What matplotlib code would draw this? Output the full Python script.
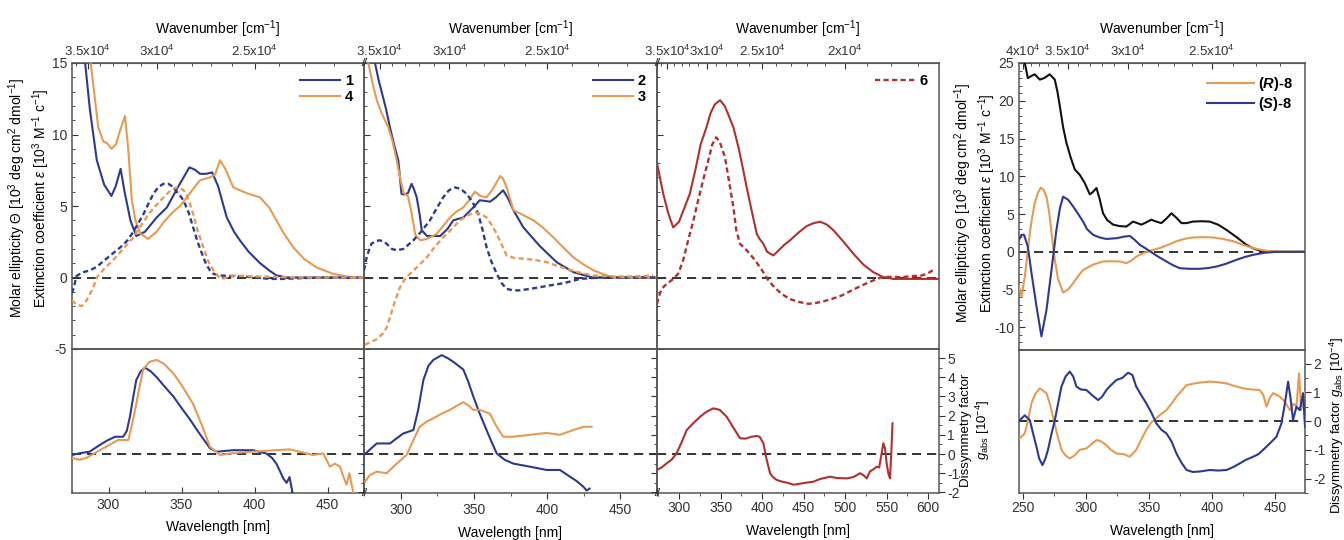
import numpy as np
import matplotlib
matplotlib.use("Agg")
import matplotlib.pyplot as plt
from matplotlib.ticker import MultipleLocator, FixedLocator
from matplotlib.lines import Line2D

plt.rcParams['font.family'] = ['Liberation Sans', 'DejaVu Sans']
plt.rcParams['axes.unicode_minus'] = False
plt.rcParams['mathtext.fontset'] = 'custom'
plt.rcParams['mathtext.rm'] = 'Liberation Sans'
plt.rcParams['mathtext.it'] = 'Liberation Sans:italic'
plt.rcParams['mathtext.bf'] = 'Liberation Sans:bold'
plt.rcParams['mathtext.bfit'] = 'Liberation Sans:italic:bold'

BLUE = '#2c3a92'
ORANGE = '#e89a52'
RED = '#b2302e'
BLACK = '#111111'
SPINE = '#555555'

# ---- compounds 1 / 4 ----
abs_1_wl = [276, 280, 284, 287.3, 292, 297, 302, 305, 308.3, 311, 315, 319, 325, 333, 340, 348, 355.4, 359, 362.7, 367, 371, 375, 381, 386, 390, 396, 403.8, 410, 415, 422, 440, 460, 475]
abs_1 = [22, 18.5, 15, 11.7, 8.2, 6.5, 5.7, 6.4, 7.6, 6.0, 4.0, 2.9, 3.2, 4.2, 4.9, 6.4, 7.7, 7.55, 7.25, 7.25, 7.35, 6.4, 4.2, 3.2, 2.6, 1.8, 1.0, 0.5, 0.15, 0.0, 0.0, 0.0, 0.0]
abs_4_wl = [278, 283, 287.8, 293, 296.5, 299, 302, 305, 308, 311.3, 313.5, 316, 318.5, 321.6, 327, 333, 338, 344.4, 349, 353.6, 358, 362.7, 369.5, 373, 376.4, 380, 385.5, 394.6, 403.8, 410, 415, 420, 426.6, 434, 442.6, 454, 465, 475]
abs_4 = [30, 20, 15, 10.5, 9.5, 9.4, 9.0, 9.3, 10.3, 11.3, 9.0, 5.4, 4.0, 3.1, 2.7, 3.2, 3.9, 4.6, 5.0, 5.6, 6.2, 6.8, 7.0, 7.2, 8.2, 7.6, 6.3, 5.9, 5.6, 4.9, 4.0, 3.1, 2.1, 1.3, 0.7, 0.25, 0.05, 0.0]
cd_1_wl = [275, 276.5, 278, 282, 287.3, 292, 296, 302, 308, 313, 317, 321, 324, 328, 330.7, 334, 337.5, 341, 344, 346.7, 350, 352.4, 355, 358, 361, 365, 367, 369.5, 372, 376, 385, 395, 405, 412, 420, 430, 450, 475]
cd_1 = [-1.1, -0.6, 0.1, 0.35, 0.5, 0.75, 1.1, 1.6, 2.1, 2.6, 3.2, 3.9, 4.45, 5.3, 5.85, 6.3, 6.55, 6.55, 6.35, 6.0, 5.6, 5.15, 4.5, 3.5, 2.5, 1.4, 0.9, 0.5, 0.25, 0.14, 0.1, 0.05, -0.05, -0.1, -0.1, -0.05, 0, 0]
cd_4_wl = [275, 278, 281.6, 285, 289.6, 292, 297, 303, 310, 317, 322, 328, 334, 340, 344, 346.7, 349.5, 352.4, 355, 358, 361, 365, 368, 371.8, 375, 377.5, 381, 385, 395, 410, 430, 450, 475]
cd_4 = [-1.6, -1.9, -2.0, -1.6, -0.7, 0.0, 0.6, 1.2, 2.0, 2.8, 3.6, 4.5, 5.2, 5.85, 6.2, 6.3, 6.25, 6.0, 5.4, 4.45, 3.3, 2.1, 1.2, 0.5, 0.1, -0.1, 0.0, 0.14, 0.1, 0.05, 0.0, 0.0, 0.0]
g_1_wl = [275, 281, 287, 294, 299, 304.5, 310, 312.5, 314.7, 317, 319, 322, 325, 329, 333, 338, 344.4, 350, 355.8, 362, 369.5, 374, 385.5, 399, 408, 412, 415, 417.5, 419.7, 422, 424, 426]
g_1 = [-0.05, 0.05, 0.12, 0.47, 0.7, 0.9, 0.9, 1.2, 1.95, 3.0, 3.85, 4.3, 4.5, 4.3, 4.0, 3.55, 3.0, 2.4, 1.8, 1.1, 0.3, 0.12, 0.2, 0.2, 0.03, -0.2, -0.5, -0.9, -1.27, -1.5, -1.2, -2.0]
g_4_wl = [275, 280, 285, 294, 300, 306.5, 313.6, 316, 319, 321.5, 323.8, 328, 333, 338, 344.4, 350, 358, 364, 369.5, 376.4, 385.5, 395, 408, 424, 432, 440, 447, 451.7, 455, 458.6, 461, 463, 465, 467.6]
g_4 = [-0.2, -0.3, -0.2, 0.2, 0.45, 0.73, 0.73, 1.5, 2.6, 3.6, 4.4, 4.8, 4.9, 4.7, 4.2, 3.6, 2.6, 1.5, 0.38, -0.05, 0.05, 0.1, 0.17, 0.24, 0.1, -0.05, 0.03, -0.66, -0.5, -0.66, -1.2, -1.6, -1.0, -2.0]

# ---- compounds 2 / 3 ----
abs_2_wl = [280, 282.5, 285, 288, 290, 292.7, 295.5, 298.4, 300.6, 302, 305, 307.5, 309, 311, 313, 314.4, 318, 321, 327, 332, 336, 342.8, 349.6, 354, 358, 361, 365, 370, 373.5, 377, 383.8, 395, 406.5, 418, 431, 450, 475]
abs_2 = [20, 15, 13.8, 12.6, 11.8, 10.5, 9.3, 8.2, 5.85, 5.8, 5.9, 6.55, 6.2, 5.6, 4.4, 3.3, 2.9, 2.9, 2.9, 3.4, 4.0, 4.2, 4.9, 5.4, 5.35, 5.3, 5.6, 6.1, 5.5, 4.7, 3.5, 2.2, 1.07, 0.37, 0.0, 0.0, 0.0]
abs_3_wl = [276, 278, 281, 283.7, 287, 291.6, 294.5, 297.3, 300, 302, 305, 307.5, 310, 313.5, 318, 324.6, 329, 333.7, 338, 342.8, 346, 350.7, 354.5, 358.7, 363, 368, 370, 372.4, 377, 383, 390.6, 397, 404.3, 411, 418, 425, 431.6, 438, 445, 460, 475]
abs_3 = [20, 15, 13.5, 12.4, 11.5, 10.5, 9.5, 8.2, 6.8, 5.9, 5.7, 4.5, 3.0, 2.6, 2.7, 3.05, 3.6, 4.2, 4.6, 4.9, 5.3, 6.0, 5.7, 5.6, 6.2, 7.1, 6.9, 6.3, 4.7, 4.4, 4.0, 3.5, 2.8, 2.1, 1.4, 0.9, 0.5, 0.25, 0.0, 0.0, 0.0]
cd_2_wl = [275, 277, 280, 283, 286, 290, 294, 297.3, 302, 308.7, 314, 320, 325, 329, 333, 337, 341, 345, 349, 353, 356, 358.7, 362, 365.6, 369, 372.4, 377, 381.5, 388, 395, 402, 408.7, 415, 422.4, 436, 455, 475]
cd_2 = [0.5, 1.5, 2.35, 2.55, 2.6, 2.4, 2.0, 1.9, 2.0, 2.6, 3.2, 4.0, 4.9, 5.6, 6.1, 6.3, 6.2, 5.85, 5.3, 4.45, 3.3, 2.1, 1.1, 0.26, -0.4, -0.8, -0.9, -0.9, -0.8, -0.68, -0.55, -0.44, -0.3, -0.1, 0.0, 0.0, 0.0]
cd_3_wl = [275.5, 280, 284, 288, 290.5, 292.7, 296, 299.6, 303, 306.4, 312, 317.8, 323, 329, 335, 340.5, 346, 350.7, 354.5, 358.7, 362, 365.6, 369, 372.4, 378, 386, 393, 399.7, 406, 413.4, 422, 431.6, 445, 454, 465, 472.5]
cd_3 = [-4.7, -4.5, -4.3, -3.9, -3.5, -2.8, -1.7, -0.68, -0.1, 0.26, 0.8, 1.4, 2.1, 2.8, 3.4, 4.0, 4.35, 4.55, 4.45, 4.2, 3.7, 3.05, 2.3, 1.54, 1.35, 1.3, 1.2, 1.07, 0.85, 0.6, 0.35, 0.14, 0.08, 0.07, 0.1, 0.15]
g_2_wl = [275.7, 280, 283.7, 292.7, 297, 301.8, 308.7, 312, 315.5, 319, 322.3, 328, 332, 336, 342.8, 346, 349.6, 354, 360, 365.6, 371, 377, 388.3, 399.7, 408.7, 415.6, 420, 424.7, 427, 429]
g_2 = [0, 0.3, 0.55, 0.55, 0.8, 1.07, 1.25, 2.3, 3.85, 4.6, 4.9, 5.15, 5.0, 4.8, 4.4, 3.8, 3.0, 2.1, 1.0, 0.03, -0.3, -0.5, -0.66, -0.83, -0.83, -1.18, -1.4, -1.7, -1.9, -1.8]
g_3_wl = [275.7, 279, 283.7, 290.5, 297.3, 304, 308, 313, 318, 322.3, 328, 333.7, 338, 342.8, 346, 349.6, 354, 361, 365, 370, 377, 388.3, 399.7, 408.7, 417.9, 424.7, 430.4]
g_3 = [-1.44, -1.1, -0.92, -1.0, -0.5, -0.05, 0.6, 1.42, 1.7, 1.86, 2.1, 2.3, 2.5, 2.7, 2.55, 2.3, 2.3, 2.1, 1.5, 0.9, 0.9, 1.0, 1.1, 1.0, 1.25, 1.42, 1.42]

# ---- compound 6 ----
abs_6_wl = [273.5, 277, 281, 287, 293, 300, 306, 313, 320, 326, 333, 338, 343, 349.4, 355, 360, 365.5, 372, 377, 381.5, 387, 393.6, 397, 401.6, 406, 413.6, 420, 427, 433.7, 443, 453.8, 462, 470, 478, 486, 498, 510, 522, 534, 545, 558, 575, 590, 606, 613]
abs_6 = [8.0, 7.0, 5.85, 4.5, 3.5, 3.9, 4.8, 5.85, 7.6, 9.3, 10.5, 11.5, 12.1, 12.4, 12.0, 11.3, 10.5, 9.0, 7.6, 6.3, 4.8, 3.05, 2.7, 2.35, 1.8, 1.54, 1.9, 2.3, 2.6, 3.1, 3.6, 3.8, 3.9, 3.7, 3.3, 2.5, 1.66, 0.9, 0.37, 0.05, -0.1, -0.1, -0.1, -0.1, -0.1]
cd_6_wl = [273.5, 276, 279, 285, 291, 299, 305, 311, 317, 323, 329, 335.3, 340, 344.6, 349, 355.4, 360, 365.5, 369, 373.5, 380, 386, 391.6, 400, 407.6, 415, 423.7, 433, 443.7, 455.7, 463, 471.8, 484, 495.8, 508, 519.9, 532, 544, 556, 568, 580, 592, 600, 608]
cd_6 = [-1.84, -1.3, -0.8, -0.45, -0.2, 0.26, 1.2, 2.6, 3.9, 5.4, 6.8, 8.2, 9.3, 9.8, 9.5, 8.4, 6.8, 4.9, 3.3, 2.35, 2.0, 1.6, 1.2, 0.5, -0.2, -0.7, -1.15, -1.5, -1.7, -1.84, -1.8, -1.7, -1.5, -1.26, -0.9, -0.56, -0.25, 0.02, 0.05, 0.02, 0.1, 0.14, 0.3, 0.6]
g_6_wl = [273.5, 279, 285, 291, 297, 303, 309.3, 317, 325.3, 333, 341.4, 349, 357.4, 365, 373.5, 380, 387, 393.6, 397, 401.6, 405, 409.6, 413, 417.6, 425, 431, 437.7, 445, 452, 461.8, 470, 481.9, 490, 502, 510, 518, 522, 526, 530, 534, 538, 541, 543, 546, 548, 550, 552, 554, 555.5, 557]
g_6 = [-0.83, -0.7, -0.49, -0.3, 0.03, 0.6, 1.25, 1.6, 1.94, 2.2, 2.38, 2.3, 1.94, 1.4, 0.82, 0.8, 0.9, 0.94, 0.9, 0.56, -0.2, -1.0, -1.2, -1.35, -1.45, -1.5, -1.6, -1.55, -1.5, -1.44, -1.3, -1.18, -1.25, -1.27, -1.2, -1.0, -1.1, -1.27, -0.9, -0.8, -0.66, -0.7, -0.2, 0.56, 0.3, -0.5, -1.0, -1.27, 0.0, 1.6]

# ---- compound 8 ----
abs_8_wl = [247, 249, 251.6, 254, 257, 259.5, 263.5, 267, 271.4, 275.4, 277.5, 279.4, 282, 284.7, 288, 291.3, 295.2, 299.2, 303.2, 305.5, 308.5, 311, 313.7, 317, 321.7, 327, 332.3, 337.5, 341, 344.2, 348, 352, 356, 360, 364, 368, 372, 376, 380, 385, 392, 398.4, 405, 411.7, 420, 427.5, 433, 438, 445, 451.3, 474]
abs_8 = [27, 26, 25, 23, 23.3, 23.5, 22.8, 23.0, 23.5, 22.8, 21.2, 19.3, 16.5, 14.4, 12.5, 10.9, 10.2, 9.1, 7.6, 7.9, 8.45, 7.0, 5.1, 4.2, 3.6, 3.4, 3.35, 4.0, 3.8, 3.6, 3.9, 4.25, 4.0, 3.8, 4.4, 5.1, 4.5, 3.8, 3.8, 4.0, 4.05, 4.0, 3.6, 2.9, 1.9, 0.93, 0.45, 0.17, 0.05, 0.0, 0.0]
cd_R8_wl = [247, 249, 251.6, 253.5, 255.6, 257.5, 259.5, 262, 264.3, 266.5, 268.8, 271, 272.8, 275.4, 278, 282, 286, 290, 294, 297.9, 305.8, 313.7, 320, 327, 332.3, 336, 340.2, 348.2, 358.7, 365, 372, 378, 385, 393, 401, 409, 417, 425, 432.8, 441, 451, 474]
cd_R8 = [-4.6, -5.9, -3.3, -0.5, 2.5, 4.6, 6.45, 7.8, 8.5, 8.2, 7.3, 5.2, 2.5, -1.06, -3.6, -5.4, -5.0, -4.15, -3.2, -2.4, -1.7, -1.28, -1.25, -1.28, -1.5, -1.2, -0.62, 0.0, 0.5, 0.9, 1.4, 1.7, 1.9, 1.95, 1.9, 1.7, 1.4, 0.9, 0.5, 0.2, 0.0, 0.0]
cd_S8_wl = [247, 249, 251, 254, 256.9, 260.9, 264.8, 268.8, 272.8, 276.7, 279.5, 282, 286, 290, 294, 297.9, 301, 305.8, 311, 316.4, 320, 324.4, 330, 334.9, 338, 342.9, 348, 353.4, 358, 364, 369, 374.6, 382, 390.5, 397, 403.7, 411, 419.6, 426, 432.8, 441, 451, 474]
cd_S8 = [1.6, 2.25, 2.25, 0.7, -2.8, -7.25, -11.2, -7.7, -2.4, 2.9, 5.8, 7.3, 6.9, 6.0, 5.0, 4.0, 3.0, 2.25, 1.9, 1.7, 1.75, 1.8, 2.0, 2.1, 1.7, 0.93, 0.4, -0.2, -0.7, -1.28, -1.75, -2.17, -2.25, -2.25, -2.15, -1.95, -1.6, -1.06, -0.7, -0.4, -0.15, 0.0, 0.0]
g_R8_wl = [247.6, 251.6, 254, 256.9, 260, 263.5, 268.8, 271.5, 274, 277.5, 280.7, 284, 287.3, 291, 295.2, 300.5, 304.5, 308.5, 312, 316.4, 320, 324.4, 330, 335, 340, 344, 348, 352, 356, 360, 364, 368, 372, 376, 380, 389, 398.4, 405, 411.7, 418, 424.9, 431, 438, 441, 443.4, 446, 448.7, 454, 458, 462, 465, 467.2, 469.3, 471, 473, 474]
g_R8 = [-0.6, -0.43, 0.0, 0.62, 0.95, 1.14, 0.97, 0.6, 0.15, -0.5, -1.0, -1.2, -1.3, -1.2, -1.0, -0.95, -0.8, -0.66, -0.7, -0.84, -1.0, -1.13, -1.15, -1.24, -1.0, -0.65, -0.31, -0.05, 0.1, 0.25, 0.38, 0.6, 0.85, 1.05, 1.25, 1.33, 1.37, 1.35, 1.31, 1.22, 1.14, 1.1, 1.08, 0.9, 0.5, 0.8, 0.97, 0.85, 0.67, 0.38, 0.6, 0.5, 1.66, 0.38, 0.9, 1.0]
g_S8_wl = [247.6, 251.6, 255.6, 258, 260.9, 263, 265.6, 268, 270, 272.5, 275.4, 278, 280.7, 284, 287.3, 290, 292.6, 296, 300.5, 305, 309.8, 313, 316.4, 320, 324.4, 329, 333.6, 337, 340, 344, 348, 352, 356, 360, 364, 368, 372, 376, 380, 385, 391, 398.4, 405, 411.7, 417, 422.3, 427, 432.8, 437, 440.8, 446, 451.3, 455.3, 458, 460.6, 462.5, 464.5, 467.2, 469.8, 472.5, 474]
g_S8 = [0.03, 0.2, 0.03, -0.4, -0.9, -1.3, -1.53, -1.3, -1.0, -0.5, 0.03, 0.6, 1.2, 1.55, 1.72, 1.55, 1.2, 1.1, 1.08, 0.9, 0.73, 0.85, 1.08, 1.25, 1.43, 1.5, 1.68, 1.6, 1.2, 0.9, 0.62, 0.3, -0.08, -0.3, -0.43, -0.7, -1.13, -1.45, -1.7, -1.77, -1.75, -1.7, -1.72, -1.7, -1.6, -1.47, -1.35, -1.24, -1.15, -1.0, -0.78, -0.55, -0.08, 0.6, 1.37, 0.8, 0.03, 0.5, 0.38, 0.97, -0.2]

W, H = 1344, 540
fig = plt.figure(figsize=(W / 100, H / 100), dpi=100)


def box(x0, x1, y0, y1):
    # pixel box -> figure fraction rect
    return [x0 / W, 1 - y1 / H, (x1 - x0) / W, (y1 - y0) / H]


def nm_to_cm(x):
    x = np.asarray(x, dtype=float)
    with np.errstate(divide='ignore', invalid='ignore'):
        return 1e7 / x


def style(ax):
    for s in ax.spines.values():
        s.set_color(SPINE)
        s.set_linewidth(1.1)
    ax.tick_params(colors='#333333', labelsize=10, which='both', direction='in')
    ax.tick_params(which='major', length=4)
    ax.tick_params(which='minor', length=2.5)


def zero_line(ax):
    ax.axhline(0, color=BLACK, lw=1.2, ls=(0, (5.5, 3.5)), zorder=1)


def wavenumber_axis(ax, labels):
    sec = ax.secondary_xaxis('top', functions=(nm_to_cm, nm_to_cm))
    sec.set_xticks(list(labels.keys()))
    sec.set_xticklabels(list(labels.values()))
    lo, hi = ax.get_xlim()
    mins = np.arange(np.ceil(1e7 / hi / 1000) * 1000, 1e7 / lo, 1000)
    sec.xaxis.set_minor_locator(FixedLocator(mins))
    sec.tick_params(colors='#333333', labelsize=9.5, which='both', direction='in', pad=3)
    sec.tick_params(which='major', length=4)
    sec.tick_params(which='minor', length=2.5)
    sec.spines['top'].set_color(SPINE)
    sec.set_xlabel('Wavenumber [cm$^{-1}$]', fontsize=10, labelpad=7)
    ax.tick_params(top=False)
    return sec


cd_dash = (0, (2.2, 1.4))
LW = 1.5
YLABEL = ('Molar ellipticity $\\mathit{Θ}$ [10$^3$ deg cm$^2$ dmol$^{-1}$]\n'
          'Extinction coefficient $\\mathit{ε}$ [10$^3$ M$^{-1}$ c$^{-1}$]')

# layout of the three-panel block and the single panel
cols = [(72, 364, 275, 475), (364, 657, 275, 475), (657, 939, 273.5, 613)]
Y_TOP, Y_MID, Y_BOT = 63, 349, 493

top_sets = [
    [(abs_1_wl, abs_1, BLUE, '-'), (abs_4_wl, abs_4, ORANGE, '-'),
     (cd_1_wl, cd_1, BLUE, cd_dash), (cd_4_wl, cd_4, ORANGE, cd_dash)],
    [(abs_2_wl, abs_2, BLUE, '-'), (abs_3_wl, abs_3, ORANGE, '-'),
     (cd_2_wl, cd_2, BLUE, cd_dash), (cd_3_wl, cd_3, ORANGE, cd_dash)],
    [(abs_6_wl, abs_6, RED, '-'), (cd_6_wl, cd_6, RED, cd_dash)],
]
bot_sets = [
    [(g_1_wl, g_1, BLUE), (g_4_wl, g_4, ORANGE)],
    [(g_2_wl, g_2, BLUE), (g_3_wl, g_3, ORANGE)],
    [(g_6_wl, g_6, RED)],
]
legends = [
    [(BLUE, '-', '1'), (ORANGE, '-', '4')],
    [(BLUE, '-', '2'), (ORANGE, '-', '3')],
    [(RED, cd_dash, '6')],
]
wn_labels = [
    {35000: '3.5x10$^4$', 30000: '3x10$^4$', 25000: '2.5x10$^4$'},
    {35000: '3.5x10$^4$', 30000: '3x10$^4$', 25000: '2.5x10$^4$'},
    {35000: '3.5x10$^4$', 30000: '3x10$^4$', 25000: '2.5x10$^4$', 20000: '2x10$^4$'},
]
nm_ticks = [[300, 350, 400, 450], [300, 350, 400, 450], [300, 350, 400, 450, 500, 550, 600]]

for i, (x0, x1, lo, hi) in enumerate(cols):
    at = fig.add_axes(box(x0, x1, Y_TOP, Y_MID))
    ab = fig.add_axes(box(x0, x1, Y_MID, Y_BOT))
    for a in (at, ab):
        style(a)
        a.set_xlim(lo, hi)
        a.patch.set_alpha(0)
    at.set_ylim(-5, 15)
    ab.set_ylim(-2.03, 5.47)
    zero_line(at)
    zero_line(ab)
    for wl, v, c, ls in top_sets[i]:
        at.plot(wl, v, color=c, ls=ls, lw=LW if ls == '-' else 1.7, zorder=3)
    for wl, v, c in bot_sets[i]:
        ab.plot(wl, v, color=c, lw=LW, zorder=3)

    at.tick_params(bottom=False, labelbottom=False)
    at.yaxis.set_major_locator(MultipleLocator(5))
    at.yaxis.set_minor_locator(MultipleLocator(1))
    at.tick_params(right=False, labelleft=(i == 0))

    ab.set_xticks(nm_ticks[i])
    ab.xaxis.set_minor_locator(MultipleLocator(25))
    ab.tick_params(top=False)
    ab.set_xlabel('Wavelength [nm]', fontsize=10, labelpad=6)
    ab.yaxis.set_major_locator(MultipleLocator(1))
    ab.yaxis.set_minor_locator(MultipleLocator(0.5))
    if i == 0:
        ab.tick_params(left=False, labelleft=False, which='both')
    else:
        ab.tick_params(left=True, labelleft=False, which='both', direction='out')
    if i == 2:
        ab.tick_params(right=True, labelright=True, which='both', direction='out', pad=2)
    else:
        ab.tick_params(right=False, which='both')

    wavenumber_axis(at, wn_labels[i])

    handles = [Line2D([], [], color=c, ls=ls, lw=LW if ls == '-' else 1.7) for c, ls, _ in legends[i]]
    at.legend(handles, [t for _, _, t in legends[i]], loc='upper right', frameon=False,
              prop={'weight': 'bold', 'size': 10.5}, handlelength=2.7, handletextpad=0.35,
              labelspacing=0.15, borderaxespad=0.35)

# axis break marks between the joined panels
for xb in (364, 657):
    for yb in (Y_TOP, Y_BOT):
        fig.text(xb / W, 1 - yb / H, '//', fontsize=7, fontweight='bold', color='#333333',
                 ha='center', va='center', style='italic')

fig.text(29 / W, 1 - 198 / H, YLABEL, rotation=90, ha='center', va='center', fontsize=10,
         multialignment='center', linespacing=1.15)
fig.text(976 / W, 1 - 430 / H, 'Dissymmetry factor\n$g_{\\mathrm{abs}}$ [10$^{-4}$]',
         rotation=90, ha='center', va='center', fontsize=9.5, multialignment='center',
         linespacing=1.1)

# ---- compound 8 ----
X0, X1 = 1019, 1305
at = fig.add_axes(box(X0, X1, 63, 350))
ab = fig.add_axes(box(X0, X1, 350, 493))
for a in (at, ab):
    style(a)
    a.set_xlim(247, 474)
    a.patch.set_alpha(0)
at.set_ylim(-13, 25)
ab.set_ylim(-2.5, 2.47)
zero_line(at)
zero_line(ab)
at.plot(abs_8_wl, abs_8, color=BLACK, lw=LW, zorder=3)
at.plot(cd_R8_wl, cd_R8, color=ORANGE, lw=LW, zorder=3)
at.plot(cd_S8_wl, cd_S8, color=BLUE, lw=LW, zorder=3)
ab.plot(g_R8_wl, g_R8, color=ORANGE, lw=LW, zorder=3)
ab.plot(g_S8_wl, g_S8, color=BLUE, lw=LW, zorder=3)

at.tick_params(bottom=False, labelbottom=False, right=False)
at.yaxis.set_major_locator(MultipleLocator(5))
at.yaxis.set_minor_locator(MultipleLocator(1))
ab.set_xticks([250, 300, 350, 400, 450])
ab.xaxis.set_minor_locator(MultipleLocator(25))
ab.tick_params(top=False)
ab.set_xlabel('Wavelength [nm]', fontsize=10, labelpad=6)
ab.yaxis.set_major_locator(MultipleLocator(1))
ab.yaxis.set_minor_locator(MultipleLocator(0.5))
ab.tick_params(left=False, labelleft=False, which='both')
ab.tick_params(right=True, labelright=True, which='both', direction='out', pad=2)
wavenumber_axis(at, {40000: '4x10$^4$', 35000: '3.5x10$^4$', 30000: '3x10$^4$', 25000: '2.5x10$^4$'})

handles = [Line2D([], [], color=ORANGE, lw=LW), Line2D([], [], color=BLUE, lw=LW)]
at.legend(handles, ['($\\mathbfit{R}$)-8', '($\\mathbfit{S}$)-8'], loc='upper right', frameon=False,
          prop={'weight': 'bold', 'size': 10.5}, handlelength=3.2, handletextpad=0.3,
          labelspacing=0.15, borderaxespad=0.4)

fig.text(975 / W, 1 - 203 / H, YLABEL, rotation=90, ha='center', va='center', fontsize=10,
         multialignment='center', linespacing=1.15)
fig.text(1337 / W, 1 - 425 / H, 'Dissymmetry factor $g_{\\mathrm{abs}}$ [10$^{-4}$]',
         rotation=90, ha='center', va='center', fontsize=9.5)

fig.savefig('out.png', dpi=100)
